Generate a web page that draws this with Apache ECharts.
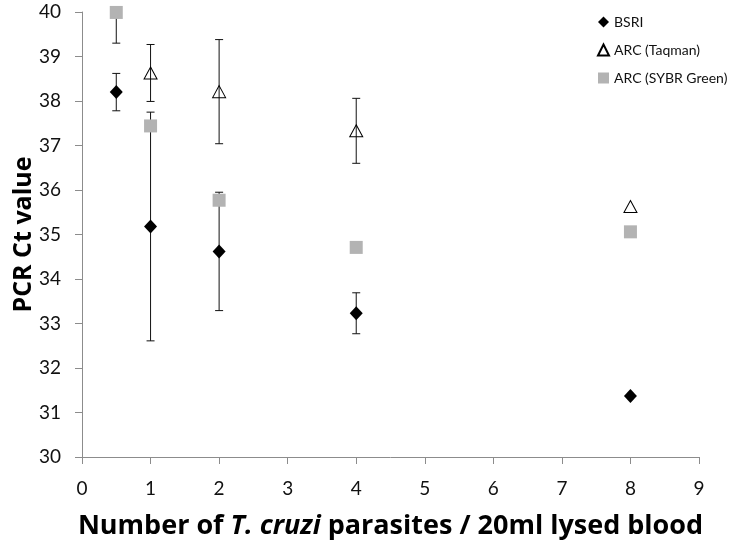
<!DOCTYPE html>
<html>
<head>
<meta charset="utf-8">
<script src="https://cdn.jsdelivr.net/npm/echarts@6/dist/echarts.min.js"></script>
<style>
  html, body { margin: 0; padding: 0; background: #fff; }
  #main { width: 734px; height: 548px; }
</style>
</head>
<body>
<div id="main"></div>
<script>
// parasites per 20ml, Ct value, +/- error
var bsriX = [0.5, 1, 2, 4, 8];
var bsriY = [38.2, 35.18, 34.62, 33.23, 31.37];
var bsriErr = [0.42, 2.57, 1.33, 0.46, 0];

var taqX = [1, 2, 4, 8];
var taqY = [38.63, 38.21, 37.33, 35.63];
var taqErr = [0.64, 1.17, 0.73, 0];

var sybrX = [0.5, 1, 2, 4, 8];
var sybrY = [39.99, 37.44, 35.77, 34.71, 35.06];
var sybrErr = [0.69, 0, 0, 0, 0];

var xTicks = [0, 1, 2, 3, 4, 5, 6, 7, 8, 9];
var yTicks = [30, 31, 32, 33, 34, 35, 36, 37, 38, 39, 40];

var FONT = 'Lato';
var TITLE_FONT = 'Open Sans';

function pts(xs, ys) {
    return xs.map(function (x, i) { return [x, ys[i]]; });
}
function bars(xs, ys, es) {
    var out = [];
    xs.forEach(function (x, i) {
        if (es[i] > 0) out.push([x, ys[i] - es[i], ys[i] + es[i]]);
    });
    return out;
}

function errorItem(params, api) {
    var top = api.coord([api.value(0), api.value(2)]);
    var bot = api.coord([api.value(0), api.value(1)]);
    var w = 4;
    var st = { stroke: '#111', lineWidth: 1 };
    return {
        type: 'group',
        children: [
            { type: 'line', shape: { x1: top[0], y1: top[1], x2: bot[0], y2: bot[1] }, style: st },
            { type: 'line', shape: { x1: top[0] - w, y1: top[1], x2: top[0] + w, y2: top[1] }, style: st },
            { type: 'line', shape: { x1: bot[0] - w, y1: bot[1], x2: bot[0] + w, y2: bot[1] }, style: st }
        ]
    };
}

var chartDom = document.getElementById('main');
var myChart = echarts.init(chartDom);
var option = {
    animation: false,
    backgroundColor: '#fff',
    textStyle: { fontFamily: FONT },
    grid: { left: 82, right: 35, top: 12, bottom: 91, outerBoundsMode: 'none', containLabel: false },
    legend: {
        orient: 'vertical',
        left: 592,
        top: 10,
        itemWidth: 11,
        itemHeight: 11,
        itemGap: 14,
        textStyle: { fontFamily: FONT, fontSize: 14, color: '#111' },
        data: ['BSRI', 'ARC (Taqman)', 'ARC (SYBR Green)']
    },
    xAxis: {
        type: 'value',
        min: 0,
        max: 9,
        interval: 1,
        splitLine: { show: false },
        axisLine: { lineStyle: { color: '#8c8c8c', width: 1 } },
        axisTick: { show: true, length: 7, lineStyle: { color: '#8c8c8c' } },
        axisLabel: {
            margin: 22, fontSize: 19, color: '#111', fontFamily: FONT,
            formatter: function (v) { return xTicks.indexOf(v) >= 0 ? String(v) : ''; }
        },
        name: '{a|Number of }{b|T. cruzi}{a| parasites / 20ml lysed blood}',
        nameLocation: 'middle',
        nameGap: 56,
        nameTextStyle: {
            rich: {
                a: { fontFamily: TITLE_FONT, fontSize: 27, fontWeight: 'bold', color: '#000' },
                b: { fontFamily: TITLE_FONT, fontSize: 27, fontWeight: 'bold', fontStyle: 'italic', color: '#000' }
            }
        }
    },
    yAxis: {
        type: 'value',
        min: 30,
        max: 40,
        interval: 1,
        splitLine: { show: false },
        axisLine: { show: true, lineStyle: { color: '#8c8c8c', width: 1 } },
        axisTick: { show: true, length: 7, lineStyle: { color: '#8c8c8c' } },
        axisLabel: {
            margin: 21, fontSize: 19, color: '#111', fontFamily: FONT,
            formatter: function (v) { return yTicks.indexOf(v) >= 0 ? String(v) : ''; }
        },
        name: 'PCR Ct value',
        nameLocation: 'middle',
        nameGap: 46,
        nameMoveOverlap: false,
        nameTextStyle: { fontFamily: TITLE_FONT, fontSize: 25, fontWeight: 'bold', color: '#000' }
    },
    series: [
        {
            name: 'errBSRI', type: 'custom', clip: true, z: 1,
            renderItem: errorItem, data: bars(bsriX, bsriY, bsriErr)
        },
        {
            name: 'errTaq', type: 'custom', clip: true, z: 1,
            renderItem: errorItem, data: bars(taqX, taqY, taqErr)
        },
        {
            name: 'errSybr', type: 'custom', clip: true, z: 1,
            renderItem: errorItem, data: bars(sybrX, sybrY, sybrErr)
        },
        {
            name: 'BSRI', type: 'scatter', z: 3,
            symbol: 'diamond', symbolSize: [13, 14],
            itemStyle: { color: '#000', opacity: 1 },
            data: pts(bsriX, bsriY)
        },
        {
            name: 'ARC (Taqman)', type: 'scatter', z: 3,
            symbol: 'triangle', symbolSize: [13, 12],
            itemStyle: { color: 'rgba(255,255,255,0)', borderColor: '#000', borderWidth: 1, opacity: 1 },
            data: pts(taqX, taqY)
        },
        {
            name: 'ARC (SYBR Green)', type: 'scatter', z: 3,
            symbol: 'rect', symbolSize: 13,
            itemStyle: { color: '#b3b3b3', opacity: 1 },
            data: pts(sybrX, sybrY)
        }
    ]
};
myChart.setOption(option);
</script>
</body>
</html>
